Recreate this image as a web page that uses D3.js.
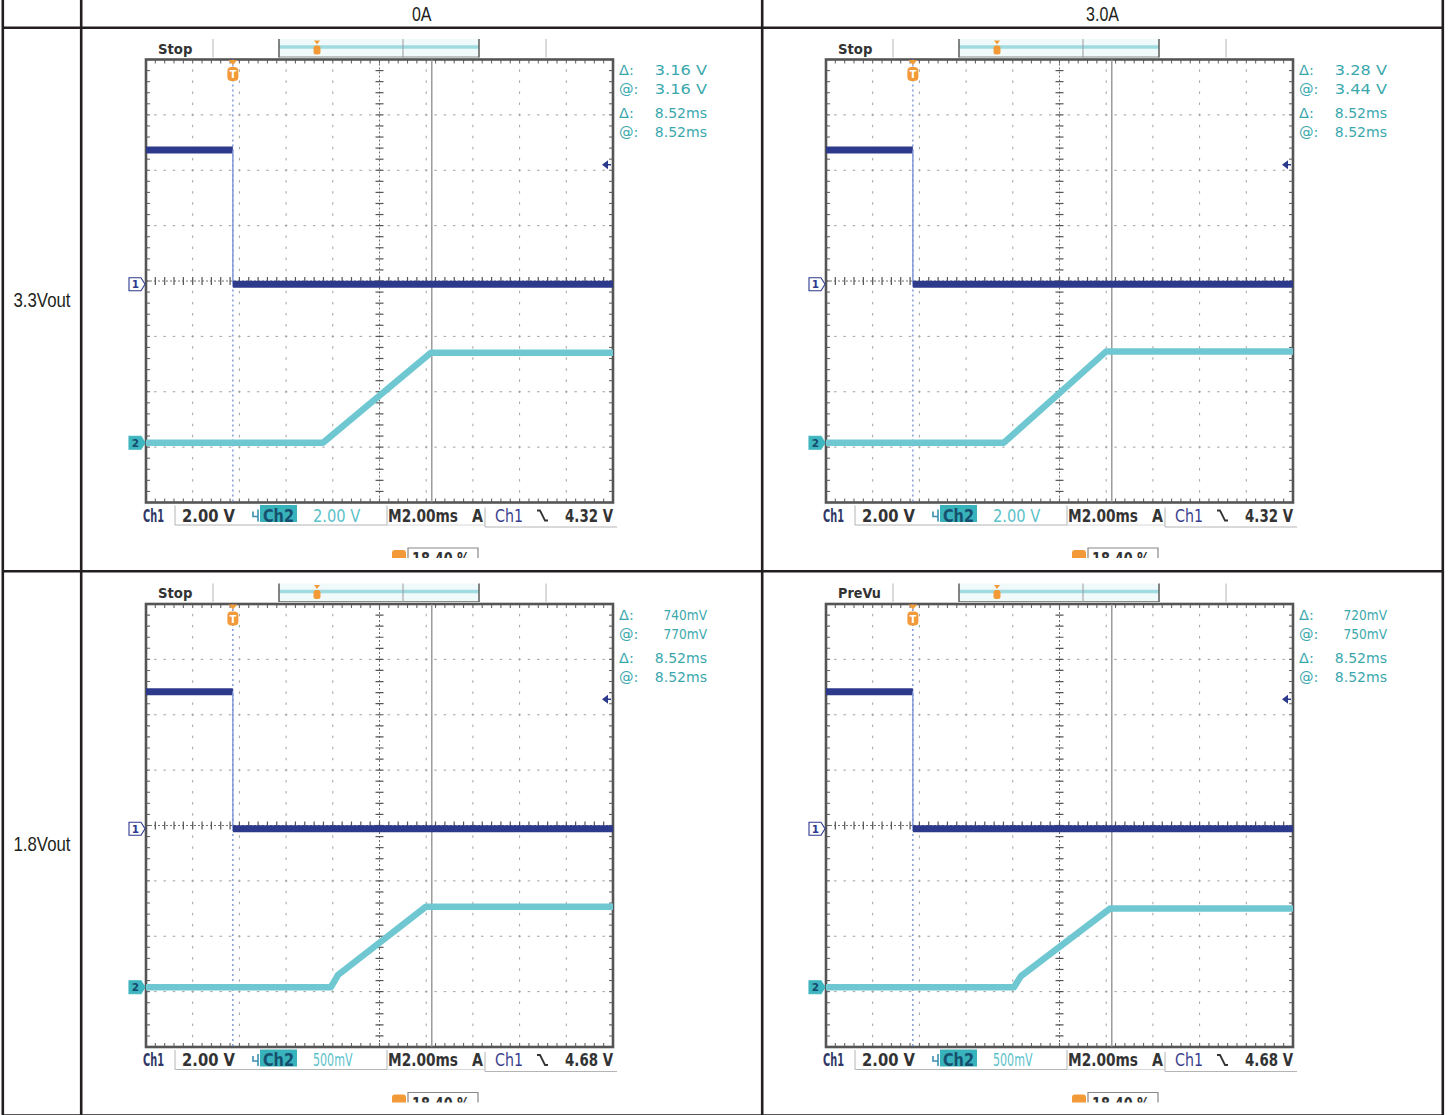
<!DOCTYPE html>
<html><head><meta charset="utf-8">
<script src="https://cdn.jsdelivr.net/npm/d3@7"></script>
<style>body{margin:0;background:#fff;overflow:hidden} svg{display:block}</style>
</head><body>
<script>
// ---------------- data ----------------
const columnHeaders = ["0A", "3.0A"];
const rowHeaders = ["3.3Vout", "1.8Vout"];
// panel order: [row0 col0, row0 col1, row1 col0, row1 col1]
const panelStatus = ["Stop", "Stop", "Stop", "PreVu"];
const timeDomain = [-3.72, 16.28];          // ms across 10 divisions (2 ms/div), trigger at 0
const ch1VoltsPerDiv = [2, 2, 2, 2];
const ch2VoltsPerDiv = [2, 2, 0.5, 0.5];
const ch1GroundDiv = -0.06;                 // ground marker position, divisions from centre
const ch2GroundDiv = -2.92;
const ch1Times = [-3.72, 0, 0, 16.28];
const ch1Values = [
  [4.85, 4.85, 0, 0],
  [4.85, 4.85, 0, 0],
  [4.95, 4.95, 0, 0],
  [4.95, 4.95, 0, 0]
];
const ch2Times = [
  [-3.72, 3.86, 8.48, 16.28],
  [-3.72, 3.90, 8.27, 16.28],
  [-3.72, 4.20, 4.50, 8.27, 16.28],
  [-3.72, 4.33, 4.63, 8.44, 16.28]
];
const ch2Values = [
  [0, 0, 3.25, 3.25],
  [0, 0, 3.29, 3.29],
  [0, 0, 0.11, 0.727, 0.727],
  [0, 0, 0.10, 0.71, 0.71]
];
const triggerLevels = [4.32, 4.32, 4.68, 4.68];
const cursorTime = 8.52;
const ch1ScaleLabels = ["2.00 V", "2.00 V", "2.00 V", "2.00 V"];
const ch2ScaleLabels = ["2.00 V", "2.00 V", "500mV", "500mV"];
const timebaseLabels = ["M2.00ms", "M2.00ms", "M2.00ms", "M2.00ms"];
const triggerLevelLabels = ["4.32 V", "4.32 V", "4.68 V", "4.68 V"];
const cursorDeltaV = ["3.16 V", "3.28 V", "740mV", "720mV"];
const cursorAtV = ["3.16 V", "3.44 V", "770mV", "750mV"];
const cursorDeltaT = ["8.52ms", "8.52ms", "8.52ms", "8.52ms"];
const cursorAtT = ["8.52ms", "8.52ms", "8.52ms", "8.52ms"];
const triggerPosLabels = ["18.40 %", "18.40 %", "18.40 %", "18.40 %"];

// ---------------- layout ----------------
const W = 1448, H = 1115;
const svg = d3.select("body").append("svg").attr("width", W).attr("height", H);
const defs = svg.append("defs");
const ink = "#231f20";
const colX = [2.8, 81.2, 762.2, 1442.8];
const rowY = [27.8, 571.3, 1115.6];
const gridLefts = [146, 826];
const gridTops = [59.5, 604];
const GW = 467, GH = 443;

const C1 = "#2d3a8c", C1edge = "#7f95d6", C2 = "#6fc8d1", TEAL = "#3aa7ad", ORANGE = "#f29a38", DARK = "#333";
const narrow = "'Liberation Sans', Arial, sans-serif";
const scopeFont = "'DejaVu Sans', sans-serif";

// ---------------- table ----------------
colX.forEach(x => svg.append("line").attr("x1", x).attr("x2", x).attr("y1", -5).attr("y2", H + 5)
  .attr("stroke", ink).attr("stroke-width", 2.6));
rowY.forEach(y => svg.append("line").attr("x1", colX[0]).attr("x2", colX[3]).attr("y1", y).attr("y2", y)
  .attr("stroke", ink).attr("stroke-width", 2.6));

function narrowText(txt, cx, baseline, size) {
  svg.append("text").attr("transform", `translate(${cx},${baseline}) scale(0.82,1)`)
    .attr("text-anchor", "middle").attr("font-family", narrow).attr("font-size", size)
    .attr("fill", ink).text(txt);
}
columnHeaders.forEach((t, c) => narrowText(t, (colX[c + 1] + colX[c + 2]) / 2, 20.5, 19.5));
rowHeaders.forEach((t, r) => narrowText(t, (colX[0] + colX[1]) / 2, (rowY[r] + rowY[r + 1]) / 2 + 7.2, 20.5));

// ---------------- scope panels ----------------
function drawPanel(i, gl, gt) {
  defs.append("clipPath").attr("id", "clip" + i).append("rect")
    .attr("x", gl - 25).attr("y", gt - 20.5).attr("width", 600).attr("height", 519);
  const g = svg.append("g").attr("clip-path", `url(#clip${i})`);

  const x = d3.scaleLinear().domain(timeDomain).range([gl, gl + GW]);
  const xd = d3.scaleLinear().domain([0, 10]).range([gl, gl + GW]);
  const yd = d3.scaleLinear().domain([-4, 4]).range([gt + GH, gt]);
  const y1 = v => yd(v / ch1VoltsPerDiv[i] + ch1GroundDiv);
  const y2 = v => yd(v / ch2VoltsPerDiv[i] + ch2GroundDiv);

  // --- top status bar ---
  g.append("text").attr("x", gl + 12).attr("y", gt - 6).attr("font-family", scopeFont)
    .attr("font-weight", "bold").attr("font-size", 14).attr("fill", DARK)
    .attr("textLength", panelStatus[i].length * 8.6).attr("lengthAdjust", "spacingAndGlyphs").text(panelStatus[i]);
  [67, 400].forEach(dx => g.append("line").attr("x1", gl + dx).attr("x2", gl + dx)
    .attr("y1", gt - 21).attr("y2", gt - 2).attr("stroke", "#b5b5b5").attr("stroke-width", 1));
  g.append("rect").attr("x", gl + 133).attr("y", gt - 21).attr("width", 200).attr("height", 19).attr("fill", "#f0fafb");
  g.append("line").attr("x1", gl + 133).attr("x2", gl + 333).attr("y1", gt - 12.5).attr("y2", gt - 12.5)
    .attr("stroke", "#9fdbe1").attr("stroke-width", 3.5);
  g.append("line").attr("x1", gl + 133).attr("x2", gl + 333).attr("y1", gt - 2.5).attr("y2", gt - 2.5)
    .attr("stroke", "#8a8a8a").attr("stroke-width", 1);
  [133, 333].forEach(dx => g.append("line").attr("x1", gl + dx).attr("x2", gl + dx)
    .attr("y1", gt - 21).attr("y2", gt - 2).attr("stroke", "#666").attr("stroke-width", 1.6));
  g.append("line").attr("x1", gl + 257).attr("x2", gl + 257).attr("y1", gt - 21).attr("y2", gt - 2)
    .attr("stroke", "#9a9a9a").attr("stroke-width", 1);
  // small trigger mark in record view
  g.append("rect").attr("x", gl + 167.5).attr("y", gt - 14).attr("width", 7).attr("height", 9).attr("rx", 2.5).attr("fill", ORANGE);
  g.append("path").attr("d", `M${gl + 168},${gt - 19}L${gl + 174},${gt - 19}L${gl + 171},${gt - 15}Z`).attr("fill", ORANGE);

  // --- graticule ---
  const grid = g.append("g");
  const dy = GH / 40, dx = GW / 50;
  d3.range(1, 10).filter(k => k !== 5).forEach(k => grid.append("line")
    .attr("x1", xd(k)).attr("x2", xd(k)).attr("y1", gt).attr("y2", gt + GH)
    .attr("stroke", "#a0a0a0").attr("stroke-width", 1)
    .attr("stroke-dasharray", `2.5,${dy - 2.5}`).attr("stroke-dashoffset", 1.25));
  d3.range(-3, 4).filter(k => k !== 0).forEach(k => grid.append("line")
    .attr("x1", gl).attr("x2", gl + GW).attr("y1", yd(k)).attr("y2", yd(k))
    .attr("stroke", "#a0a0a0").attr("stroke-width", 1)
    .attr("stroke-dasharray", `2.5,${dx - 2.5}`).attr("stroke-dashoffset", 1.25));
  // centre axes with ticks
  grid.append("line").attr("x1", xd(5)).attr("x2", xd(5)).attr("y1", gt).attr("y2", gt + GH)
    .attr("stroke", "#707070").attr("stroke-width", 1).attr("stroke-dasharray", "2,2");
  grid.append("line").attr("x1", gl).attr("x2", gl + GW).attr("y1", yd(0)).attr("y2", yd(0))
    .attr("stroke", "#707070").attr("stroke-width", 1).attr("stroke-dasharray", "2,2");
  d3.range(1, 40).forEach(m => {
    const yy = yd(-4 + m * 0.2);
    grid.append("line").attr("x1", xd(5) - 4).attr("x2", xd(5) + 4).attr("y1", yy).attr("y2", yy)
      .attr("stroke", "#555").attr("stroke-width", 1.2);
    grid.append("line").attr("x1", gl).attr("x2", gl + 4).attr("y1", yy).attr("y2", yy).attr("stroke", "#666").attr("stroke-width", 1.1);
    grid.append("line").attr("x1", gl + GW - 4).attr("x2", gl + GW).attr("y1", yy).attr("y2", yy).attr("stroke", "#666").attr("stroke-width", 1.1);
  });
  d3.range(1, 50).forEach(m => {
    const xx = xd(m * 0.2);
    grid.append("line").attr("x1", xx).attr("x2", xx).attr("y1", yd(0) - 4).attr("y2", yd(0) + 4)
      .attr("stroke", "#555").attr("stroke-width", 1.2);
    grid.append("line").attr("x1", xx).attr("x2", xx).attr("y1", gt).attr("y2", gt + 4).attr("stroke", "#666").attr("stroke-width", 1.1);
    grid.append("line").attr("x1", xx).attr("x2", xx).attr("y1", gt + GH - 4).attr("y2", gt + GH).attr("stroke", "#666").attr("stroke-width", 1.1);
  });
  grid.append("rect").attr("x", gl).attr("y", gt).attr("width", GW).attr("height", GH)
    .attr("fill", "none").attr("stroke", "#555").attr("stroke-width", 2.6);

  // cursor & trigger position lines
  g.append("line").attr("x1", x(cursorTime)).attr("x2", x(cursorTime)).attr("y1", gt).attr("y2", gt + GH)
    .attr("stroke", "#8c8c8c").attr("stroke-width", 1.3);
  g.append("line").attr("x1", x(0)).attr("x2", x(0)).attr("y1", gt).attr("y2", gt + GH)
    .attr("stroke", "#6f8cd2").attr("stroke-width", 1.3).attr("stroke-dasharray", "2,3");

  // --- traces ---
  function drawTrace(times, values, yf, color, width, edgeColor) {
    const pts = times.map((t, j) => [x(t), yf(values[j])]);
    let run = [pts[0]];
    const flush = () => {
      if (run.length > 1) g.append("path").attr("d", d3.line()(run)).attr("fill", "none")
        .attr("stroke", color).attr("stroke-width", width).attr("stroke-linejoin", "round");
    };
    for (let j = 1; j < pts.length; j++) {
      if (times[j] === times[j - 1]) {
        flush();
        g.append("line").attr("x1", pts[j - 1][0]).attr("x2", pts[j][0])
          .attr("y1", pts[j - 1][1]).attr("y2", pts[j][1]).attr("stroke", edgeColor).attr("stroke-width", 1.4);
        run = [pts[j]];
      } else run.push(pts[j]);
    }
    flush();
  }
  drawTrace(ch2Times[i], ch2Values[i], y2, C2, 6.5, C2);
  drawTrace(ch1Times, ch1Values[i], y1, C1, 7, C1edge);

  // trigger position badge at top of graticule
  const tx = x(0);
  g.append("path").attr("d", `M${tx - 4.5},${gt + 0.5}L${tx + 4.5},${gt + 0.5}L${tx},${gt + 5.5}Z`).attr("fill", ORANGE);
  g.append("rect").attr("x", tx - 5.5).attr("y", gt + 7.5).attr("width", 11).attr("height", 14).attr("rx", 4).attr("fill", ORANGE);
  g.append("text").attr("x", tx).attr("y", gt + 18.5).attr("text-anchor", "middle").attr("font-family", scopeFont)
    .attr("font-weight", "bold").attr("font-size", 10).attr("fill", "#fff").text("T");

  // channel ground markers
  function marker(yy, fill, stroke, label, txtColor) {
    g.append("path").attr("d", `M${gl - 17},${yy - 6.5}H${gl - 5}L${gl - 1},${yy}L${gl - 5},${yy + 6.5}H${gl - 17}Z`)
      .attr("fill", fill).attr("stroke", stroke).attr("stroke-width", 1.1);
    g.append("text").attr("x", gl - 10.5).attr("y", yy + 4).attr("text-anchor", "middle").attr("font-family", scopeFont)
      .attr("font-weight", "bold").attr("font-size", 10.5).attr("fill", txtColor).text(label);
  }
  marker(y1(0), "#fff", C1, "1", C1);
  marker(y2(0), "#3fb6bf", "#3fb6bf", "2", "#134a6b");

  // trigger level arrow on the right edge
  const ty = y1(triggerLevels[i]);
  g.append("path").attr("d", `M${gl + GW - 11},${ty}L${gl + GW - 5},${ty - 4.5}L${gl + GW - 5},${ty + 4.5}Z`).attr("fill", C1);
  g.append("line").attr("x1", gl + GW - 6).attr("x2", gl + GW - 2).attr("y1", ty).attr("y2", ty).attr("stroke", C1).attr("stroke-width", 1.5);

  // cursor readouts (right side)
  const readRows = [["\u0394:", cursorDeltaV[i], 15.5], ["@:", cursorAtV[i], 34.5], ["\u0394:", cursorDeltaT[i], 58.5], ["@:", cursorAtT[i], 77.5]];
  readRows.forEach(([lab, val, dy]) => {
    g.append("text").attr("x", gl + 473).attr("y", gt + dy).attr("font-family", scopeFont).attr("font-size", 14.5)
      .attr("fill", TEAL).text(lab);
    g.append("text").attr("x", gl + 561).attr("y", gt + dy).attr("text-anchor", "end").attr("font-family", scopeFont)
      .attr("font-size", 14.5).attr("fill", TEAL)
      .attr("textLength", val.length * 8.7).attr("lengthAdjust", "spacingAndGlyphs").text(val);
  });

  // bottom readout line
  const by = gt + 462;
  function rt(txt, dx, w, color, weight) {
    g.append("text").attr("x", gl + dx).attr("y", by).attr("font-family", scopeFont).attr("font-size", 17)
      .attr("font-weight", weight || "bold").attr("fill", color)
      .attr("textLength", w).attr("lengthAdjust", "spacingAndGlyphs").text(txt);
  }
  rt("Ch1", -3, 21, "#2f3767");
  rt(ch1ScaleLabels[i], 36, 53, DARK);
  g.append("path").attr("d", `M${gl + 107},${by - 10}v5h5M${gl + 112},${by - 12}v12`).attr("fill", "none")
    .attr("stroke", "#3a8fb0").attr("stroke-width", 1.6);
  g.append("rect").attr("x", gl + 114).attr("y", by - 16.5).attr("width", 37).attr("height", 17).attr("fill", "#38b3bc");
  rt("Ch2", 117, 31, "#17506e");
  rt(ch2ScaleLabels[i], 167, ch2ScaleLabels[i].length * 7.9, "#5cc2ca", "normal");
  rt(timebaseLabels[i], 242, 70, DARK);
  rt("A", 326, 11, DARK);
  rt("Ch1", 349, 28, "#3a3f8f", "normal");
  g.append("path").attr("d", `M${gl + 391},${by - 11}h3l5,10h3`).attr("fill", "none").attr("stroke", DARK).attr("stroke-width", 1.8);
  rt(triggerLevelLabels[i], 419, 48, DARK);
  const boxC = "#b4b4b4";
  g.append("path").attr("d", `M${gl + 29},${by - 16}V${by + 3.5}H${gl + 241}V${by - 16}`).attr("fill", "none").attr("stroke", boxC).attr("stroke-width", 1);
  g.append("path").attr("d", `M${gl + 241},${by + 3.5}H${gl + 339}`).attr("fill", "none").attr("stroke", "#d8d8d8").attr("stroke-width", 1);
  g.append("path").attr("d", `M${gl + 339},${by - 14}V${by + 5.5}H${gl + 471}`).attr("fill", "none").attr("stroke", boxC).attr("stroke-width", 1);

  // trigger position readout (cut by the screenshot edge)
  g.append("rect").attr("x", gl + 246).attr("y", gt + 490.5).attr("width", 14).attr("height", 12).attr("rx", 3).attr("fill", ORANGE);
  g.append("path").attr("d", `M${gl + 262},${gt + 510}V${gt + 488.5}H${gl + 332}V${gt + 510}`).attr("fill", "none")
    .attr("stroke", "#888").attr("stroke-width", 1.2);
  g.append("text").attr("x", gl + 266).attr("y", gt + 505.5).attr("font-family", scopeFont).attr("font-size", 17)
    .attr("font-weight", "bold").attr("fill", DARK).attr("textLength", 58).attr("lengthAdjust", "spacingAndGlyphs")
    .text(triggerPosLabels[i]);
}

[0, 1, 2, 3].forEach(i => drawPanel(i, gridLefts[i % 2], gridTops[Math.floor(i / 2)]));
</script>
</body></html>
